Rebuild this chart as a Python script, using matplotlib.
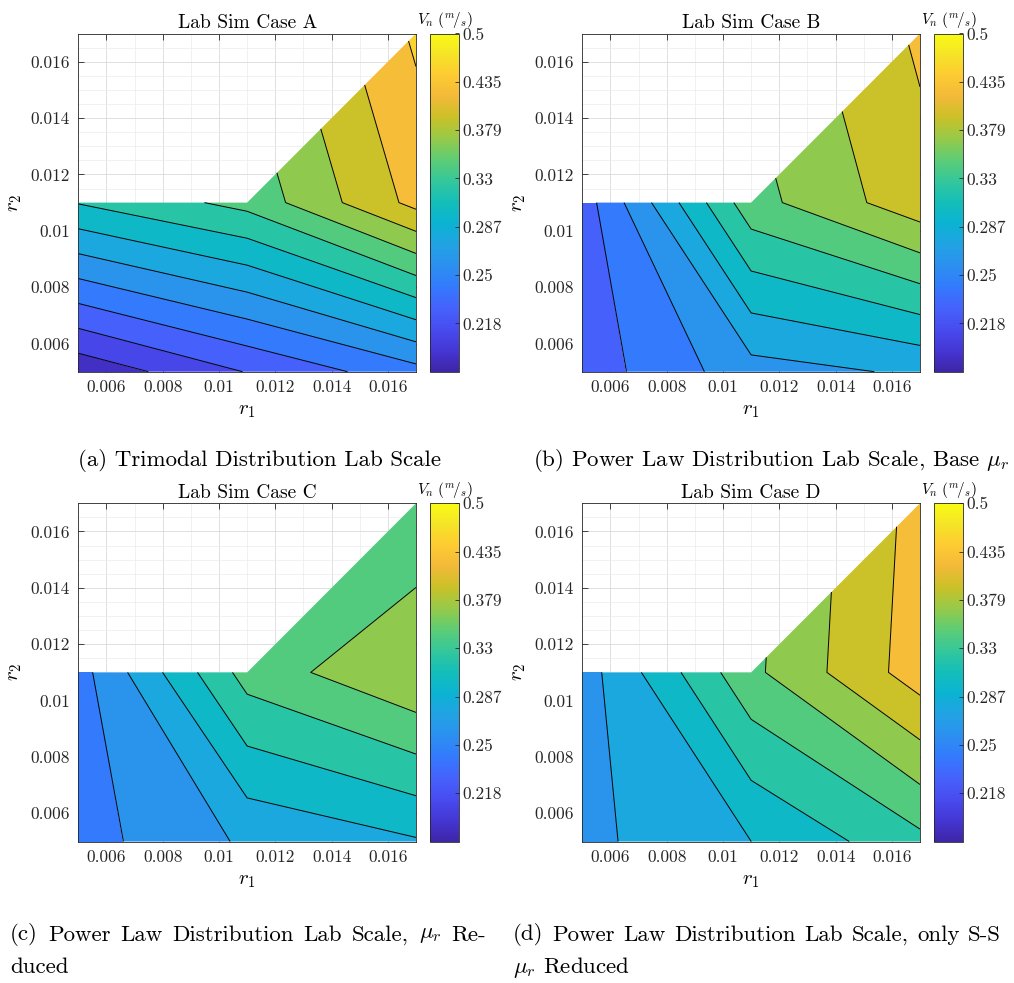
import numpy as np
import matplotlib
matplotlib.use("Agg")
import matplotlib.pyplot as plt
from matplotlib.colors import LinearSegmentedColormap, LogNorm
from matplotlib.cm import ScalarMappable
from matplotlib.ticker import FixedLocator, FixedFormatter, MultipleLocator, NullLocator

plt.rcParams["font.family"] = "cmr10"
plt.rcParams["mathtext.fontset"] = "cm"
plt.rcParams["axes.unicode_minus"] = False
plt.rcParams["axes.formatter.use_mathtext"] = True

# ---------------------------------------------------------------- data
r1 = [0.005, 0.011, 0.017]
r2 = [0.005, 0.011, 0.017]

# V_n (m/s) on the (r1, r2) grid, rows follow r2; NaN = combination not simulated
vn_case_a = [[0.1934, 0.2189, 0.2445],
             [0.3093, 0.3377, 0.4149],
             [np.nan, np.nan, 0.4406]]
vn_case_b = [[0.2248, 0.2611, 0.2712],
             [0.2255, 0.3450, 0.3961],
             [np.nan, np.nan, 0.4112]]
vn_case_c = [[0.2433, 0.2714, 0.2857],
             [0.2435, 0.3400, 0.3782],
             [np.nan, np.nan, 0.3314]]
vn_case_d = [[0.2635, 0.2876, 0.3240],
             [0.2595, 0.3483, 0.4210],
             [np.nan, np.nan, 0.4166]]

titles = ["Lab Sim Case A", "Lab Sim Case B", "Lab Sim Case C", "Lab Sim Case D"]
captions = [
    ["(a) Trimodal Distribution Lab Scale"],
    [r"(b) Power Law Distribution Lab Scale, Base $\mu_r$"],
    [r"(c) Power Law Distribution Lab Scale, $\mu_r$ Re-", "duced"],
    ["(d) Power Law Distribution Lab Scale, only S-S", r"$\mu_r$ Reduced"],
]
vn_min, vn_max = 0.19, 0.5
n_levels = 15
n_cbar_ticks = 8
axis_ticks = [0.006, 0.008, 0.010, 0.012, 0.014, 0.016]
axis_ticklabels = ["0.006", "0.008", "0.01", "0.012", "0.014", "0.016"]

# ---------------------------------------------------------------- parula
parula_pts = [
    (0.2422, 0.1504, 0.6603), (0.2704, 0.2138, 0.8346), (0.2813, 0.2985, 0.9397),
    (0.2710, 0.3860, 0.9898), (0.2006, 0.4803, 0.9906), (0.1716, 0.5655, 0.9393),
    (0.1288, 0.6408, 0.8910), (0.0433, 0.7039, 0.8242), (0.0770, 0.7468, 0.7224),
    (0.2061, 0.7808, 0.6065), (0.3671, 0.8021, 0.4563), (0.5886, 0.7913, 0.2833),
    (0.7945, 0.7554, 0.1570), (0.9523, 0.7284, 0.2237), (0.9938, 0.7974, 0.1974),
    (0.9601, 0.8963, 0.1507), (0.9769, 0.9839, 0.0805),
]
pos = [i * 16 / 255 for i in range(16)] + [1.0]
parula = LinearSegmentedColormap.from_list("parula", list(zip(pos, parula_pts)), N=256)

levels = np.geomspace(vn_min, vn_max, n_levels)
log_levels = np.log(levels)
frac = (np.arange(n_levels - 1) + 0.55) / (n_levels - 1)
band_colors = [parula(f) for f in frac]

cbar_ticks = np.geomspace(vn_min, vn_max, n_cbar_ticks)[1:]
cbar_labels = [f"{np.floor(v * 1000 + 1e-9) / 1000:g}" for v in cbar_ticks]

# ---------------------------------------------------------------- layout
W, H = 1014, 983
fig = plt.figure(figsize=(W / 100, H / 100), dpi=100)


def fx(px):
    return px / W


def fy(px):
    return 1 - px / H


ax_w, ax_h = 337.7, 338.2
panels = [
    (78.3, 33.5, vn_case_a),
    (582.3, 33.5, vn_case_b),
    (78.3, 503.3, vn_case_c),
    (582.3, 503.3, vn_case_d),
]
cbar_dx, cbar_w = 351.7, 28.7

R1, R2 = np.meshgrid(r1, r2)
edge = (0.15, 0.15, 0.15)

for i, (left, top, vals) in enumerate(panels):
    ax = fig.add_axes([fx(left), fy(top + ax_h), ax_w / W, ax_h / H])
    Z = np.ma.masked_invalid(np.log(np.array(vals, dtype=float)))
    ax.set_axisbelow(True)
    ax.contourf(R1, R2, Z, levels=log_levels, colors=band_colors, antialiased=True)
    ax.contour(R1, R2, Z, levels=log_levels, colors="k", linewidths=0.7,
               linestyles="solid")
    ax.set_xlim(0.005, 0.017)
    ax.set_ylim(0.005, 0.017)
    ax.xaxis.set_major_locator(FixedLocator(axis_ticks))
    ax.yaxis.set_major_locator(FixedLocator(axis_ticks))
    ax.xaxis.set_major_formatter(FixedFormatter(axis_ticklabels))
    ax.yaxis.set_major_formatter(FixedFormatter(axis_ticklabels))
    ax.xaxis.set_minor_locator(MultipleLocator(0.001))
    ax.yaxis.set_minor_locator(MultipleLocator(0.0005))
    ax.grid(True, which="major", color=(0.86, 0.86, 0.86), linewidth=0.6)
    ax.grid(True, which="minor", color=(0.92, 0.92, 0.92), linewidth=0.5)
    ax.tick_params(which="major", direction="in", length=4, width=0.6, color=edge,
                   top=True, right=True, labelsize=12.5, pad=6,
                   labelcolor=(0.15, 0.15, 0.15))
    ax.tick_params(which="minor", length=0)
    for s in ax.spines.values():
        s.set_color(edge)
        s.set_linewidth(0.6)
    ax.set_title(titles[i], fontsize=14, pad=4, color="k")
    ax.set_xlabel(r"$r_1$", fontsize=15, labelpad=5)
    ax.set_ylabel(r"$r_2$", fontsize=15, labelpad=5)

    cax = fig.add_axes([fx(left + cbar_dx), fy(top + ax_h), cbar_w / W, ax_h / H])
    sm = ScalarMappable(norm=LogNorm(vmin=vn_min, vmax=vn_max), cmap=parula)
    cb = fig.colorbar(sm, cax=cax)
    cb.outline.set_edgecolor(edge)
    cb.outline.set_linewidth(0.6)
    cax.yaxis.set_major_locator(FixedLocator(cbar_ticks))
    cax.yaxis.set_major_formatter(FixedFormatter(cbar_labels))
    cax.yaxis.set_minor_locator(NullLocator())
    cax.tick_params(which="major", direction="in", length=3, width=0.6, color=edge,
                    labelsize=12.5, pad=3, labelcolor=(0.15, 0.15, 0.15))
    fig.text(fx(left + cbar_dx + cbar_w / 2), fy(top - 13), r"$V_n\ (^m\!/_s)$",
             ha="center", va="center", fontsize=11)

# ---------------------------------------------------------------- captions
renderer = fig.canvas.get_renderer()
cap_size = 16.5


def justified_line(text, x0, x1, y):
    """Spread the words of one caption line over [x0, x1] like a justified paragraph."""
    words = text.split(" ")
    items = [fig.text(0, fy(y), w, ha="left", va="center", fontsize=cap_size)
             for w in words]
    widths = [t.get_window_extent(renderer).width for t in items]
    gap = ((x1 - x0) - sum(widths)) / (len(words) - 1)
    x = x0
    for t, w in zip(items, widths):
        t.set_x(fx(x))
        x += w + gap


fig.text(fx(260), fy(460), captions[0][0], ha="center", va="center", fontsize=cap_size)
fig.text(fx(771), fy(460), captions[1][0], ha="center", va="center", fontsize=cap_size)

justified_line(captions[2][0], 10, 486, 935)
fig.text(fx(10), fy(967), captions[2][1], ha="left", va="center", fontsize=cap_size)
justified_line(captions[3][0], 513, 1001, 935)
fig.text(fx(513), fy(967), captions[3][1], ha="left", va="center", fontsize=cap_size)

fig.savefig("out.png", dpi=100)
